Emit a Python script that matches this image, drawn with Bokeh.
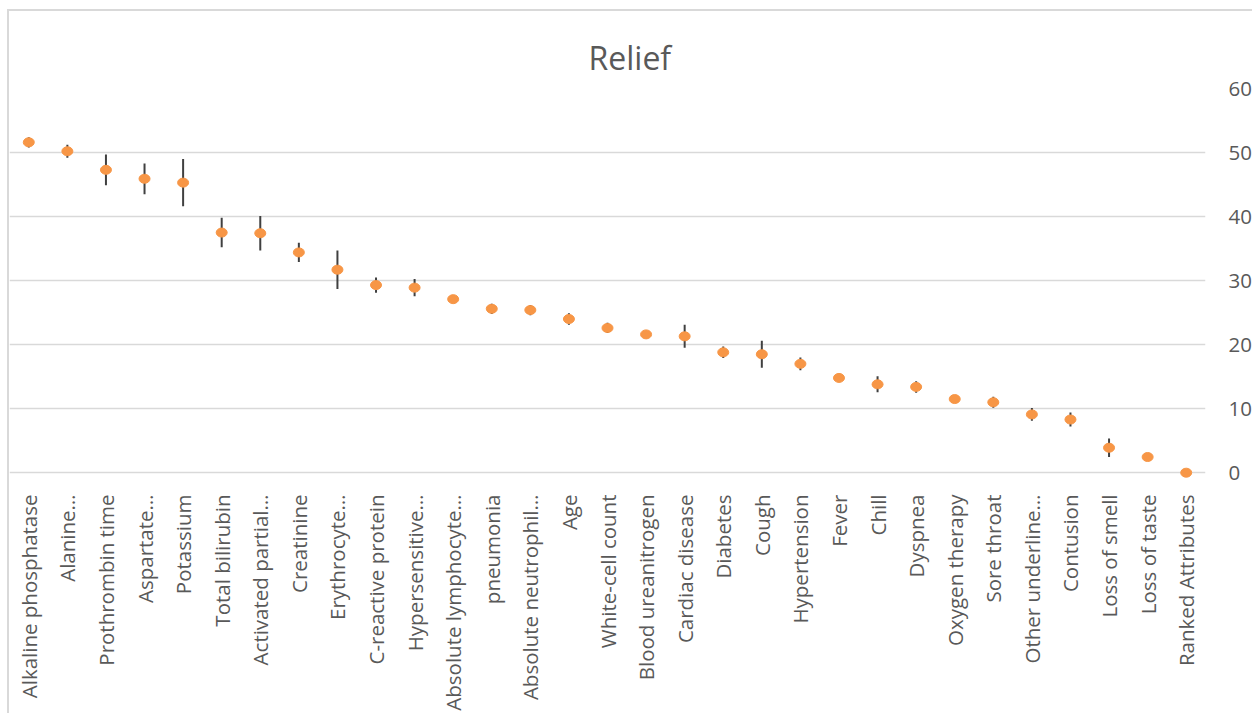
from math import pi

from bokeh.embed import file_html
from bokeh.models import ColumnDataSource, Title, FixedTicker
from bokeh.plotting import figure
from bokeh.resources import INLINE

# Ranked attributes and their Relief scores with error half-widths
attributes = [
    "Alkaline phosphatase", "Alanine…", "Prothrombin time", "Aspartate…",
    "Potassium", "Total bilirubin", "Activated partial…", "Creatinine",
    "Erythrocyte…", "C-reactive protein", "Hypersensitive…",
    "Absolute lymphocyte…", "pneumonia", "Absolute neutrophil…", "Age",
    "White-cell count", "Blood ureanitrogen", "Cardiac disease", "Diabetes",
    "Cough", "Hypertension", "Fever", "Chill", "Dyspnea", "Oxygen therapy",
    "Sore throat", "Other underline…", "Contusion", "Loss of smell",
    "Loss of taste", "Ranked Attributes",
]
relief = [
    51.6, 50.2, 47.3, 45.9, 45.3, 37.5, 37.4, 34.4, 31.7, 29.3, 28.9,
    27.1, 25.6, 25.4, 24.0, 22.6, 21.6, 21.3, 18.8, 18.5, 17.0, 14.8,
    13.8, 13.4, 11.5, 11.0, 9.1, 8.3, 3.9, 2.45, 0.0,
]
error = [
    0.8, 1.0, 2.4, 2.4, 3.7, 2.3, 2.7, 1.5, 3.0, 1.2, 1.35,
    0.3, 0.8, 0.8, 0.9, 0.8, 0.5, 1.8, 0.9, 2.1, 1.0, 0.5,
    1.25, 0.9, 0.6, 0.85, 1.0, 1.1, 1.45, 0.4, 0.0,
]
y_ticks = [0, 10, 20, 30, 40, 50, 60]

TEXT = "#595959"
GRID = "#D9D9D9"
FONT = "Open Sans"

source = ColumnDataSource(dict(
    attr=attributes,
    val=relief,
    lo=[v - e for v, e in zip(relief, error)],
    hi=[v + e for v, e in zip(relief, error)],
))

# A little room below zero keeps the bottom marker whole inside the frame
p = figure(
    x_range=attributes,
    y_range=(-2, y_ticks[-1]),
    width=1245, height=704,
    output_backend="svg", toolbar_location=None,
    y_axis_location="right",
    min_border_left=0, min_border_right=42,
    min_border_top=77, min_border_bottom=230,
)
p.styles = {
    "margin-left": "7px",
    "margin-top": "9px",
    "border-left": f"2px solid {GRID}",
    "border-top": f"2px solid {GRID}",
}

p.add_layout(Title(
    text="Relief", text_font=FONT, text_font_size="32px",
    text_font_style="normal", text_color=TEXT,
    align="left", offset=579, standoff=20,
), "above")

p.outline_line_color = None
p.background_fill_color = "white"
p.border_fill_color = "white"

p.xgrid.grid_line_color = None
p.ygrid.grid_line_color = GRID
p.ygrid.grid_line_width = 1.5

p.yaxis.ticker = FixedTicker(ticks=y_ticks)
p.yaxis.axis_line_color = None
p.yaxis.major_tick_line_color = None
p.yaxis.minor_tick_line_color = None
p.yaxis.major_label_standoff = 17
p.yaxis.major_label_text_font = FONT
p.yaxis.major_label_text_font_size = "20.5px"
p.yaxis.major_label_text_color = TEXT

p.xaxis.axis_line_color = None
p.xaxis.major_tick_line_color = None
p.xaxis.minor_tick_line_color = None
p.xaxis.major_label_orientation = pi / 2
p.xaxis.major_label_standoff = 3
p.xaxis.major_label_text_font = FONT
p.xaxis.major_label_text_font_size = "20.5px"
p.xaxis.major_label_text_color = TEXT

# Error bars, then the score markers on top
p.segment(x0="attr", y0="lo", x1="attr", y1="hi", source=source,
          line_color="#404040", line_width=2)
p.ellipse(x="attr", y="val", width=11, height=9,
          width_units="screen", height_units="screen", source=source,
          fill_color="#F79646", line_color="#F79646")

open("out.html", "w").write(file_html(p, INLINE))
